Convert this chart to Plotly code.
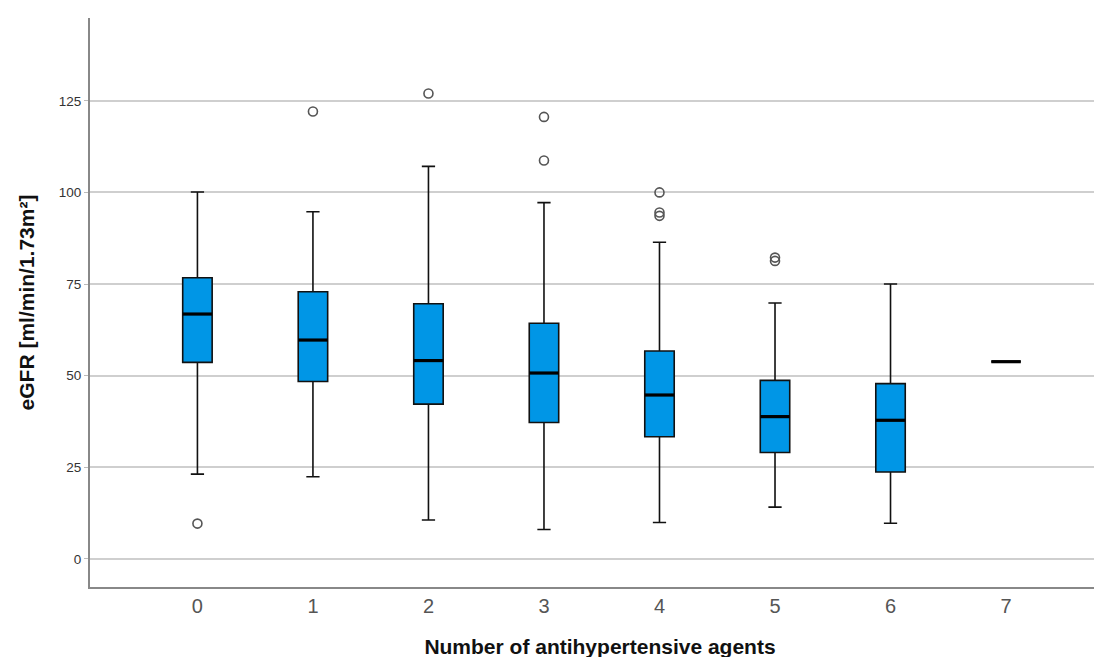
import plotly.graph_objects as go

categories = [0, 1, 2, 3, 4, 5, 6, 7]
lower_whisker = [23.1, 22.4, 10.6, 8.0, 9.9, 14.1, 9.7, 53.8]
q1_values = [53.6, 48.4, 42.2, 37.2, 33.3, 29.0, 23.7, 53.8]
median_values = [66.8, 59.7, 54.1, 50.7, 44.7, 38.8, 37.8, 53.8]
q3_values = [76.7, 72.9, 69.6, 64.3, 56.7, 48.7, 47.8, 53.8]
upper_whisker = [100.1, 94.7, 107.1, 97.2, 86.4, 69.8, 75.0, 53.8]
outliers = {
    0: [9.6],
    1: [122.1],
    2: [127.0],
    3: [108.7, 120.6],
    4: [93.6, 94.5, 100.0],
    5: [81.3, 82.2],
    6: [],
    7: [],
}
y_ticks = [0, 25, 50, 75, 100, 125]

BOX_W = 0.255
FILL = "#0096E6"

fig = go.Figure()

fig.add_trace(go.Box(
    x=categories,
    q1=q1_values,
    median=median_values,
    q3=q3_values,
    lowerfence=lower_whisker,
    upperfence=upper_whisker,
    width=BOX_W,
    whiskerwidth=0.45,
    fillcolor=FILL,
    line=dict(color="#111111", width=1.6),
    boxpoints=False,
    showlegend=False,
    hoverinfo="skip",
))

# thick median bars
mx, my = [], []
for c, m in zip(categories, median_values):
    mx += [c - BOX_W / 2, c + BOX_W / 2, None]
    my += [m, m, None]
fig.add_trace(go.Scatter(
    x=mx, y=my, mode="lines",
    line=dict(color="#000000", width=3.2),
    showlegend=False, hoverinfo="skip",
))

ox, oy = [], []
for c in categories:
    for v in outliers[c]:
        ox.append(c)
        oy.append(v)
fig.add_trace(go.Scatter(
    x=ox, y=oy, mode="markers",
    marker=dict(symbol="circle-open", size=9, color="#555555",
                line=dict(width=1.6, color="#555555")),
    showlegend=False, hoverinfo="skip",
))

fig.update_layout(
    width=1102, height=657,
    margin=dict(l=82, r=0, t=10, b=78),
    paper_bgcolor="white",
    plot_bgcolor="white",
    font=dict(family="Liberation Sans, Arial, sans-serif"),
    xaxis=dict(
        range=[-0.93, 7.9],
        tickmode="array",
        tickvals=categories,
        ticktext=[str(c) for c in categories],
        tickfont=dict(size=20, color="#555555"),
        showgrid=False,
        zeroline=False,
        showline=True,
        linecolor="#888888",
        linewidth=2,
        ticks="",
        title=dict(text="<b>Number of antihypertensive agents</b>",
                   font=dict(size=21, color="#111111"), standoff=23),
    ),
    yaxis=dict(
        range=[-7.7, 147.6],
        tickmode="array",
        tickvals=y_ticks,
        tickfont=dict(size=13.5, color="#333333"),
        showgrid=True,
        gridcolor="#CFCFCF",
        gridwidth=1.5,
        zeroline=False,
        showline=True,
        linecolor="#888888",
        linewidth=2,
        ticks="outside",
        ticklen=4,
        tickcolor="#BBBBBB",
        title=dict(text="<b>eGFR [ml/min/1.73m²]</b>",
                   font=dict(size=21, color="#111111"), standoff=18),
    ),
)

fig.write_html("out.html")
